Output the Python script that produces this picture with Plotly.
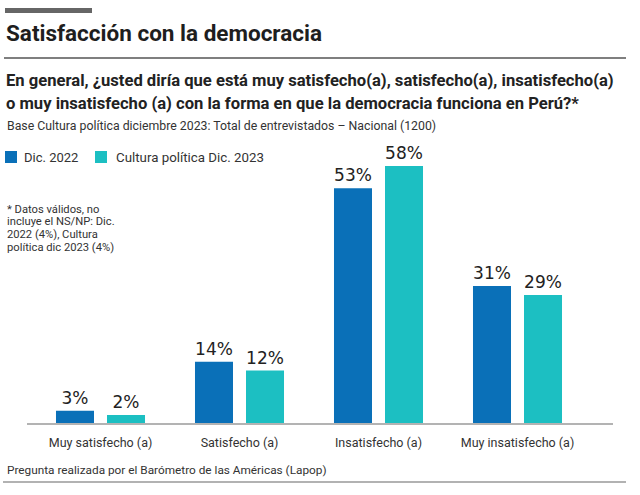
import plotly.graph_objects as go

W, H = 640, 495

categories = ["Muy satisfecho (a)", "Satisfecho (a)", "Insatisfecho (a)", "Muy insatisfecho (a)"]
series_names = ["Dic. 2022", "Cultura política Dic. 2023"]
values_2022 = [3, 14, 53, 31]
values_2023 = [2, 12, 58, 29]
colors = ["#0a70b8", "#1cbfc2"]

title_text = "Satisfacción con la democracia"
question_lines = [
    "En general, ¿usted diría que está muy satisfecho(a), satisfecho(a), insatisfecho(a)",
    "o muy insatisfecho (a) con la forma en que la democracia funciona en Perú?*",
]
subtitle_text = "Base Cultura política diciembre 2023: Total de entrevistados – Nacional (1200)"
footnote_lines = [
    "* Datos válidos, no",
    "incluye el NS/NP: Dic.",
    "2022 (4%), Cultura",
    "política dic 2023 (4%)",
]
footer_text = "Pregunta realizada por el Barómetro de las Américas (Lapop)"

BODY = "Roboto, sans-serif"
NUM = "DejaVu Sans, sans-serif"


def px(x):
    return x / W


def py(y):
    return 1 - y / H


fig = go.Figure()
for name, vals, col in zip(series_names, [values_2022, values_2023], colors):
    fig.add_trace(go.Bar(
        x=categories, y=vals, name=name, marker_color=col, marker_line_width=0,
        text=[f"{v}%" for v in vals], textposition="outside", cliponaxis=False,
        textfont=dict(family=NUM, size=17, color="#222222"),
        showlegend=False,
    ))


def note(x, y, text, size, color="#333333"):
    return dict(x=px(x), y=py(y), xref="paper", yref="paper", text=text, showarrow=False,
                xanchor="left", yanchor="middle",
                font=dict(family=BODY, size=size, color=color))


ann = [note(4, 33, f"<b>{title_text}</b>", 22.5, "#1e1e1e")]
for i, line in enumerate(question_lines):
    ann.append(note(4, 80 + 23 * i, f"<b>{line}</b>", 16.6, "#222222"))
ann.append(note(5, 126, subtitle_text, 12.3))
ann.append(note(22, 157, series_names[0], 13))
ann.append(note(114, 157, series_names[1], 13.3))
for i, line in enumerate(footnote_lines):
    ann.append(note(5, 209 + 12.9 * i, line, 11.2))
ann.append(note(5, 470, footer_text, 11.8))

shapes = [
    dict(type="rect", xref="paper", yref="paper", x0=px(5), x1=px(92), y0=py(8), y1=py(13),
         fillcolor="#666666", line_width=0),
    dict(type="line", xref="paper", yref="paper", x0=px(4), x1=px(626), y0=py(58), y1=py(58),
         line=dict(color="#555555", width=1.5)),
    dict(type="rect", xref="paper", yref="paper", x0=px(5), x1=px(17), y0=py(151), y1=py(163),
         fillcolor=colors[0], line_width=0),
    dict(type="rect", xref="paper", yref="paper", x0=px(95), x1=px(107), y0=py(151), y1=py(163),
         fillcolor=colors[1], line_width=0),
    dict(type="line", xref="paper", yref="paper", x0=px(27), x1=px(613), y0=py(424), y1=py(424),
         line=dict(color="#b3b3b3", width=2)),
    dict(type="line", xref="paper", yref="paper", x0=px(3), x1=px(626), y0=py(482), y1=py(482),
         line=dict(color="#999999", width=1.5)),
]

fig.update_layout(
    width=W, height=H,
    margin=dict(l=0, r=0, t=0, b=0),
    paper_bgcolor="white", plot_bgcolor="white",
    barmode="group", bargap=0.266, bargroupgap=0.255,
    annotations=ann, shapes=shapes,
    xaxis=dict(domain=[px(31), px(587)], showline=False, showgrid=False, zeroline=False,
               ticks="", ticklabelstandoff=9,
               tickfont=dict(family=BODY, size=12.5, color="#333333"),
               fixedrange=True),
    yaxis=dict(domain=[py(424), py(157)], range=[0, 60], visible=False, fixedrange=True),
)

fig.write_html("out.html")
